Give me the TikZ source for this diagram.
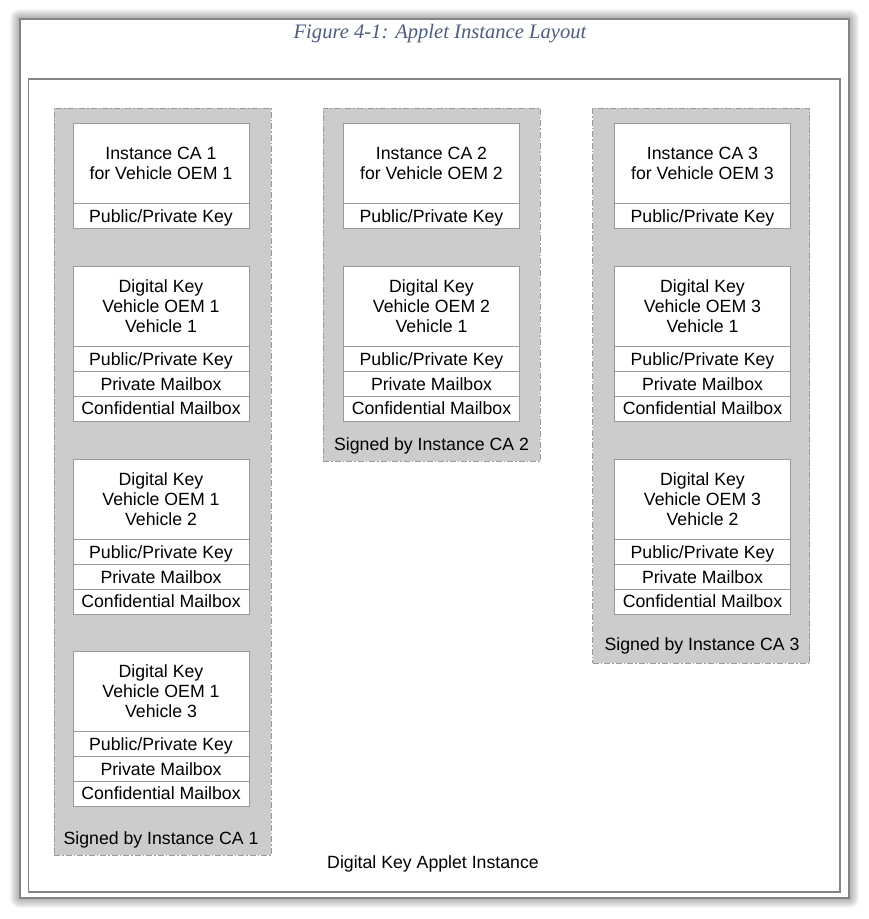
\documentclass[tikz,border=0pt]{standalone}
\usepackage{fontspec}
\setmainfont{Liberation Sans}
\newfontfamily\titlefont{Liberation Serif}
\usetikzlibrary{positioning}

\definecolor{grpgray}{HTML}{CCCCCC}
\definecolor{linegray}{HTML}{9A9A9A}
\definecolor{framegray}{HTML}{858585}
\definecolor{titleblue}{HTML}{4E5C7E}

\begin{document}
\begin{tikzpicture}[x=1pt, y=-1pt,
  grp/.style={draw=linegray, fill=grpgray, dash pattern=on 6pt off 2pt on 1.5pt off 2pt,
    minimum width=217pt, inner sep=0pt, anchor=north},
  hdr/.style={draw=linegray, fill=white, minimum width=176pt, minimum height=80pt,
    align=center, inner sep=0pt, font=\fontsize{17.7}{20}\selectfont},
  row/.style={draw=linegray, fill=white, minimum width=176pt, minimum height=24.5pt,
    inner sep=0pt, text height=15pt, text depth=2pt, font=\fontsize{17.7}{20}\selectfont},
  lbl/.style={font=\fontsize{17.7}{20}\selectfont}]
\useasboundingbox (0,0) rectangle (869,919);
% page with its shadow
\foreach \s in {1,...,10} \fill[black, opacity=0.035, rounded corners=\s pt] (20-\s,19-\s) rectangle (849+\s,898+\s);
\draw[framegray, line width=1.2pt, fill=white] (20,19) rectangle (849,898);
\node[font=\titlefont\itshape\fontsize{20.6}{24}\selectfont, text=titleblue] (title) at (440,34) {Figure 4-1: Applet Instance Layout};
% applet frame
\draw[framegray, line width=1.6pt] (28.5,79) rectangle (840,892);
\node[lbl] (applet) at (433,864) {Digital Key Applet Instance};
% one group per vehicle OEM
\foreach \col/\x/\h in {1/162.5/747, 2/431.5/353, 3/701/555}
  \node[grp, minimum height=\h pt] (grp\col) at (\x,108) {};
\foreach \col/\x/\y in {1/161/840, 2/431.5/446, 3/702/646}
  \node[lbl] (sig\col) at (\x,\y) {Signed by Instance CA \col};
% instance CA boxes
\foreach \col/\x in {1/161, 2/431.5, 3/702.5} {
  \node[hdr] (ca\col) at (\x,163) {Instance CA \col\\for Vehicle OEM \col};
  \node[row, below=0pt of ca\col] (ca\col-key) {Public/Private Key};
}
% digital key boxes
\foreach \col/\veh/\x/\y in {1/1/161/306, 1/2/161/499, 1/3/161/691, 2/1/431.5/306, 3/1/702.5/306, 3/2/702.5/499} {
  \node[hdr] (dk\col\veh) at (\x,\y) {Digital Key\\Vehicle OEM \col\\Vehicle \veh};
  \node[row, below=0pt of dk\col\veh] (dk\col\veh-key) {Public/Private Key};
  \node[row, below=0pt of dk\col\veh-key] (dk\col\veh-pm) {Private Mailbox};
  \node[row, below=0pt of dk\col\veh-pm] (dk\col\veh-cm) {Confidential Mailbox};
}
\end{tikzpicture}
\end{document}
